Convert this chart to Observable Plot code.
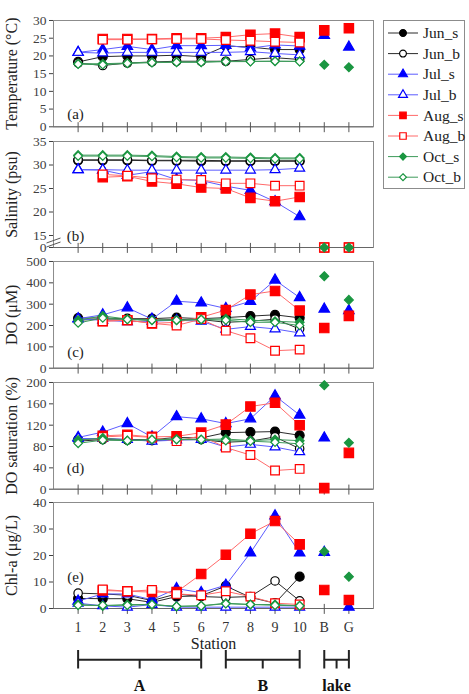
<!DOCTYPE html>
<html><head><meta charset="utf-8">
<script src="https://cdn.jsdelivr.net/npm/d3@7"></script>
<script src="https://cdn.jsdelivr.net/npm/@observablehq/plot@0.6"></script>
<style>
html,body{margin:0;padding:0;background:#fff;}
#chart{position:relative;width:469px;height:694px;overflow:hidden;font-family:"Liberation Serif","Times New Roman",serif;}
#chart > svg{position:absolute;left:0;}
#chart svg, #chart svg text{font-family:"Liberation Serif","Times New Roman",serif !important;}
</style></head><body><div id="chart"></div>
<script>
// ---------- categories ----------
const stations = ["1","2","3","4","5","6","7","8","9","10","B","G"];
const stationPos = [1,2,3,4,5,6,7,8,9,10,11,12];
const connected = [true,true,true,true,true,true,true,true,true,true,false,false];
const seriesNames = ["Jun_s","Jun_b","Jul_s","Jul_b","Aug_s","Aug_b","Oct_s","Oct_b"];
const groups = [{name:"A", from:"1", to:"6"},{name:"B", from:"7", to:"10"},{name:"lake", from:"B", to:"G"}];

// ---------- tick labels ----------
const tempTicks = [0,5,10,15,20,25,30];
const salTicks = [0,15,20,25,30,35];
const doTicks = [0,100,200,300,400,500];
const dosTicks = [0,40,80,120,160,200];
const chlTicks = [0,10,20,30,40];

// ---------- (a) Temperature ----------
const temp_Jun_s = [18.3,19.8,20.0,20.0,20.2,19.8,22.8,22.5,21.8,21.8,null,null];
const temp_Jun_b = [18.0,17.3,18.0,18.3,18.5,18.5,18.5,19.0,19.5,19.0,null,null];
const temp_Jul_s = [21.0,21.8,22.7,21.8,22.9,22.9,23.0,22.2,23.1,22.8,25.8,22.5];
const temp_Jul_b = [21.0,20.8,21.0,21.0,21.0,21.0,21.0,21.2,20.7,20.3,null,null];
const temp_Aug_s = [null,24.8,24.8,24.8,25.0,25.0,25.3,26.0,26.3,25.3,27.2,27.8];
const temp_Aug_b = [null,24.6,24.6,24.7,24.8,24.8,24.5,24.3,24.0,23.8,null,null];
const temp_Oct_s = [17.8,17.8,18.0,18.2,18.3,18.3,18.5,18.5,18.5,18.5,17.5,16.8];
const temp_Oct_b = [17.7,17.5,17.9,18.1,18.2,18.2,18.4,18.4,18.5,18.4,null,null];

// ---------- (b) Salinity ----------
const sal_Jun_s = [31.0,31.0,31.0,30.9,30.9,30.8,30.8,30.8,30.8,30.8,null,null];
const sal_Jun_b = [31.1,31.1,31.1,31.0,31.0,31.0,30.9,30.9,30.9,30.9,null,null];
const sal_Jul_s = [29.0,28.9,27.8,28.6,26.9,26.7,25.5,24.6,22.2,19.0,null,null];
const sal_Jul_b = [29.0,29.0,28.9,28.9,28.9,28.9,28.9,28.9,29.0,29.3,null,null];
const sal_Aug_s = [null,27.4,27.6,26.5,26.0,25.2,25.0,23.0,22.3,23.2,0,0];
const sal_Aug_b = [null,28.0,27.7,27.2,26.9,26.8,26.1,26.1,25.6,25.6,0,0];
const sal_Oct_s = [32.1,32.1,32.1,32.0,31.8,31.7,31.7,31.6,31.5,31.5,0,0];
const sal_Oct_b = [31.9,31.9,31.9,31.8,31.6,31.5,31.5,31.4,31.3,31.3,null,null];

// ---------- (c) DO ----------
const do_Jun_s = [235,235,232,232,237,232,237,244,250,236,null,null];
const do_Jun_b = [225,230,230,225,228,228,215,220,230,184,null,null];
const do_Jul_s = [232,250,283,230,314,306,280,313,413,331,277,270];
const do_Jul_b = [230,225,218,220,225,220,182,195,184,165,null,null];
const do_Aug_s = [null,220,225,210,215,239,272,345,362,270,188,245];
const do_Aug_b = [null,220,225,210,200,230,176,140,82,87,null,null];
const do_Oct_s = [225,245,230,225,225,228,232,225,220,215,431,320];
const do_Oct_b = [212,235,228,225,225,228,225,215,215,200,null,null];

// ---------- (d) DO saturation ----------
const dos_Jun_s = [93,95,93,93,97,96,106,107,108,101,null,null];
const dos_Jun_b = [90,93,92,91,93,93,88,90,98,76,null,null];
const dos_Jul_s = [97,107,123,98,136,132,123,132,175,139,96,null];
const dos_Jul_b = [95,95,93,90,92,93,79,84,79,70,null,null];
const dos_Aug_s = [null,100,102,98,99,106,121,155,162,120,2,68];
const dos_Aug_b = [null,98,100,97,90,100,78,64,35,38,null,null];
const dos_Oct_s = [92,96,91,93,94,93,94,91,93,91,195,87];
const dos_Oct_b = [86,92,91,93,93,93,91,90,88,85,null,null];

// ---------- (e) Chl-a ----------
const chl_Jun_s = [3.8,3.7,3.7,2.3,4.5,4.8,8.5,4.2,2.0,12.0,null,null];
const chl_Jun_b = [5.8,5.5,5.0,3.0,5.5,4.5,4.2,4.5,10.4,2.9,null,null];
const chl_Jul_s = [2.8,5.5,5.5,3.3,7.5,6.0,8.8,21.0,35.0,21.0,21.2,0.5];
const chl_Jul_b = [2.0,1.0,0.5,1.5,0.5,0.5,0.5,0.5,0.5,0.5,null,null];
const chl_Aug_s = [null,6.8,6.5,6.2,6.2,13.0,20.3,28.2,33.0,24.2,7.0,3.2];
const chl_Aug_b = [null,7.2,6.5,7.0,5.5,5.0,6.5,4.5,2.0,1.5,null,null];
const chl_Oct_s = [1.5,1.0,1.5,1.5,0.8,1.0,2.0,1.5,1.5,1.0,21.5,12.0];
const chl_Oct_b = [1.2,1.2,1.2,1.5,0.8,1.0,1.8,1.5,1.2,1.0,null,null];

// ---------- styles ----------
const seriesColor = ["#000000","#000000","#0000ff","#0000ff","#ff0000","#ff0000","#1a9641","#1a9641"];
const lineColor   = ["#2a2a2a","#2a2a2a","#5c5cff","#5c5cff","#ff6a6a","#ff6a6a","#3d9a5a","#3d9a5a"];
const seriesSymbol = ["circle","circle","triangle","triangle","square","square","diamond2","diamond2"];
const seriesOpen = [false,true,false,true,false,true,false,true];
const seriesR = [4.5,4.2,3.9,3.7,5.3,4.9,4.0,3.8];

const W = 469, M_LEFT = 53, M_RIGHT = 96;
const X_DOMAIN = [0, 13];
const FONT = '"Liberation Serif","Times New Roman",serif';

const panels = [
  {label:"Temperature (°C)", letter:"(a)", domain:[0,30], ticks:tempTicks,
   data:[temp_Jun_s,temp_Jun_b,temp_Jul_s,temp_Jul_b,temp_Aug_s,temp_Aug_b,temp_Oct_s,temp_Oct_b]},
  {label:"Salinity (psu)", letter:"(b)", domain:[0,35], breakAt:15, ticks:salTicks,
   data:[sal_Jun_s,sal_Jun_b,sal_Jul_s,sal_Jul_b,sal_Aug_s,sal_Aug_b,sal_Oct_s,sal_Oct_b]},
  {label:"DO (μM)", letter:"(c)", domain:[0,500], ticks:doTicks,
   data:[do_Jun_s,do_Jun_b,do_Jul_s,do_Jul_b,do_Aug_s,do_Aug_b,do_Oct_s,do_Oct_b]},
  {label:"DO saturation (%)", letter:"(d)", domain:[0,200], ticks:dosTicks,
   data:[dos_Jun_s,dos_Jun_b,dos_Jul_s,dos_Jul_b,dos_Aug_s,dos_Aug_b,dos_Oct_s,dos_Oct_b]},
  {label:"Chl-a (μg/L)", letter:"(e)", domain:[0,40], ticks:chlTicks,
   data:[chl_Jun_s,chl_Jun_b,chl_Jul_s,chl_Jul_b,chl_Aug_s,chl_Aug_b,chl_Oct_s,chl_Oct_b]}
];
const layout = [
  {top:20, bottom:126.3, letterDy:-13},
  {top:140.7, bottom:246.7, letterDy:-11, breakGap:12},
  {top:261, bottom:367.7, letterDy:-16},
  {top:382.3, bottom:489, letterDy:-21},
  {top:501.7, bottom:607.7, letterDy:-31}
];

const tickSymbol = {draw(ctx){ ctx.moveTo(0,-4.6); ctx.lineTo(0,5.4); }};
const breakSymbol = {draw(ctx){ ctx.moveTo(-7,1.5); ctx.lineTo(7,-3.5); ctx.moveTo(-7,5.5); ctx.lineTo(7,0.5); }};

const chart = document.getElementById("chart");

panels.forEach((p, k) => {
  const L = layout[k];
  const PAD = 10;
  const H = (L.bottom - L.top) + 2*PAD;
  const yb = H - PAD, yt = PAD;
  // broken axis: values below breakAt are compressed into a small gap
  let f = v => v;
  let yDomain = p.domain;
  if (p.breakAt != null) {
    const lo = p.domain[0], hi = p.domain[1], b = p.breakAt;
    const pxPerUnit = (yb - yt - L.breakGap) / (hi - b);
    const gapUnits = L.breakGap / pxPerUnit;
    f = v => v >= b ? v : b - gapUnits * (b - v) / (b - lo);
    yDomain = [f(lo), hi];
  }
  const tickLabel = new Map(p.ticks.map(t => [f(t), String(t)]));
  const marks = [
    Plot.frame({stroke:"#8c8c8c"}),
    Plot.ruleY([yDomain[0]], {stroke:"#666"}),
    Plot.dot(stationPos, {x:d=>d, frameAnchor:"bottom", symbol:tickSymbol, fill:"none", stroke:"#555", strokeWidth:1}),
    Plot.axisY({ticks:p.ticks.map(f), tickFormat:d=>tickLabel.get(d), tickSize:4, tickPadding:3, fontSize:13.5, label:null}),
    Plot.text([p.label], {frameAnchor:"left", dx:-42, rotate:-90, textAnchor:"middle", lineAnchor:"middle", fontSize:16, fill:"#222"}),
    Plot.text([p.letter], {frameAnchor:"bottom-left", dx:22, dy:L.letterDy, textAnchor:"middle", lineAnchor:"middle", fontSize:15, fill:"#222"})
  ];
  if (p.breakAt != null) {
    marks.push(Plot.dot([f((p.domain[0]+p.breakAt)/2)], {y:d=>d, frameAnchor:"left", symbol:breakSymbol, fill:"none", stroke:"#555", strokeWidth:1}));
  }
  seriesNames.forEach((s, si) => {
    const rows = p.data[si].map((v,i)=>({pos:stationPos[i], value: v == null ? null : f(v), conn:connected[i]})).filter(d=>d.value != null);
    marks.push(Plot.line(rows.filter(d=>d.conn), {x:"pos", y:"value", stroke:lineColor[si], strokeWidth:1}));
    marks.push(Plot.dot(rows, {x:"pos", y:"value", symbol:seriesSymbol[si], r:seriesR[si],
      fill: seriesOpen[si] ? "white" : seriesColor[si], stroke: seriesColor[si], strokeWidth:1.2}));
  });
  const svg = Plot.plot({
    width:W, height:H, marginLeft:M_LEFT, marginRight:M_RIGHT, marginTop:PAD, marginBottom:PAD,
    x:{domain:X_DOMAIN, axis:null},
    y:{domain:yDomain, range:[yb, yt]},
    style:{fontFamily:FONT, fontSize:"14px", background:"transparent", overflow:"visible", color:"#404040"},
    marks
  });
  svg.style.top = (L.top - PAD) + "px";
  chart.appendChild(svg);
});

// ---------- bottom: station labels, title and groups ----------
{
  const top = 607.7, H = 86;
  const posOf = name => stationPos[stations.indexOf(name)];
  const grp = groups.map(g => ({name:g.name, x1:posOf(g.from), x2:posOf(g.to), mid:(posOf(g.from)+posOf(g.to))/2}));
  const svg = Plot.plot({
    width:W, height:H, marginLeft:M_LEFT, marginRight:M_RIGHT, marginTop:0, marginBottom:0,
    x:{domain:X_DOMAIN, axis:null},
    y:{domain:[-1,1], range:[60.5,42], axis:null},
    style:{fontFamily:FONT, fontSize:"14px", background:"transparent", overflow:"visible", color:"#222"},
    marks:[
      Plot.text(stationPos, {x:d=>d, text:(d,i)=>stations[i], frameAnchor:"top", dy:19, lineAnchor:"middle", fontSize:14, fill:"#333"}),
      Plot.text(["Station"], {frameAnchor:"top", dy:35, lineAnchor:"middle", fontSize:16, fill:"#222"}),
      Plot.ruleY(grp, {x1:"x1", x2:"x2", y:()=>0, stroke:"#222", strokeWidth:2}),
      Plot.ruleX(grp.flatMap(g=>[g.x1,g.x2]), {x:d=>d, y1:-1, y2:1, stroke:"#222", strokeWidth:2}),
      Plot.ruleX(grp, {x:"mid", y1:-1, y2:0, stroke:"#222", strokeWidth:2}),
      Plot.text(grp, {x:"mid", text:"name", frameAnchor:"top", dy:77.5, lineAnchor:"middle", fontSize:16, fontWeight:"bold", fill:"#111"})
    ]
  });
  svg.style.top = top + "px";
  chart.appendChild(svg);
}

// ---------- legend ----------
{
  const lw = 82, lh = 169;
  const symType = {circle:d3.symbolCircle, triangle:d3.symbolTriangle, square:d3.symbolSquare, diamond2:d3.symbolDiamond2};
  const symSize = {circle:36, triangle:34, square:42, diamond2:30};
  const svg = d3.create("svg").attr("width", lw).attr("height", lh)
    .style("position","absolute").style("left","383px").style("top","20px").style("overflow","visible");
  svg.append("rect").attr("x",0.5).attr("y",0.5).attr("width",lw-1).attr("height",lh-1)
    .attr("fill","white").attr("stroke","#8c8c8c");
  seriesNames.forEach((s, i) => {
    const y = 13 + i*20.6;
    const g = svg.append("g").attr("transform", `translate(0,${y})`);
    g.append("line").attr("x1",5).attr("x2",35).attr("y1",0).attr("y2",0).attr("stroke", lineColor[i]).attr("stroke-width",1);
    g.append("path").attr("d", d3.symbol(symType[seriesSymbol[i]], symSize[seriesSymbol[i]])())
      .attr("transform","translate(20,0)")
      .attr("fill", seriesOpen[i] ? "white" : seriesColor[i]).attr("stroke", seriesColor[i]).attr("stroke-width",1.2);
    g.append("text").attr("x",40).attr("y",0).attr("dy","0.33em").attr("font-family",FONT).attr("font-size",15.5)
      .attr("fill","#222").text(s);
  });
  chart.appendChild(svg.node());
}
</script></body></html>
